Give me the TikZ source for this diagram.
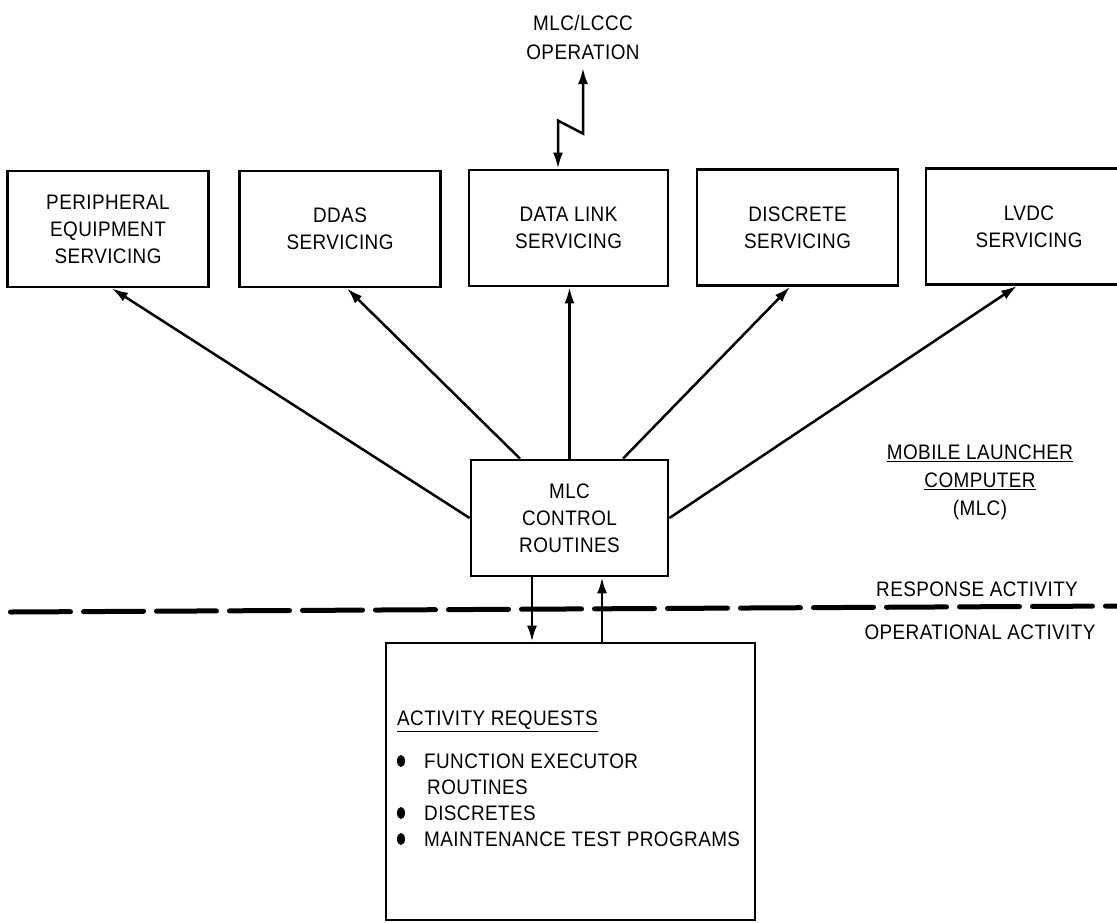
\documentclass[tikz,border=0pt]{standalone}
\usepackage{fontspec}
\setmainfont{Liberation Sans}[FakeStretch=0.9,LetterSpace=2]
\usetikzlibrary{arrows.meta,calc}
\newcommand\diaglbl{\fontsize{21}{27}\selectfont}
\begin{document}
\begin{tikzpicture}[x=1pt,y=-1pt,
  box/.style={draw, line width=2.8pt, minimum width=201pt, minimum height=116pt,
    align=center, inner sep=0pt, font=\diaglbl},
  txt/.style={font=\diaglbl, inner sep=0pt, text height=15pt, text depth=0pt},
  arr/.style={line width=2.5pt, -{Latex[length=16pt,width=10pt]}},
  dbl/.style={line width=2.5pt, {Latex[length=16pt,width=10pt]}-{Latex[length=16pt,width=10pt]}},
  divider/.style={line width=5pt, line cap=round, dash pattern=on 60pt off 13pt}]
\fill[white] (0,0) rectangle (1117,922);
\useasboundingbox (0,0) rectangle (1117,922);

% top boxes
\node[box] (pes) at (108,229) {PERIPHERAL\\EQUIPMENT\\SERVICING};
\node[box] (ddas) at (340,229) {DDAS\\SERVICING};
\node[box, minimum width=199pt] (dls) at (568.5,228) {DATA LINK\\SERVICING};
\node[box] (dis) at (797.5,227.5) {DISCRETE\\SERVICING};
\node[box, minimum width=206pt] (lvdc) at (1029,226.5) {LVDC\\SERVICING};

% middle box
\node[box, minimum width=197pt] (mlc) at (569.5,518) {MLC\\CONTROL\\ROUTINES};

% bottom box
\node[draw, line width=2.8pt, minimum width=369pt, minimum height=277pt, inner sep=0pt] (req) at (570.5,781.5) {};

% top label
\node[font=\fontsize{21}{29}\selectfont, align=center, inner sep=0pt] (op) at (583,37.5) {MLC/LCCC\\OPERATION};
\coordinate (optip) at (583,68);
\draw[dbl] ([xshift=-10.5pt]dls.north) -- ++(0,-48) -- ++(25,13) -- (optip);

% right labels
\node[font=\fontsize{21}{28}\selectfont, align=center, inner sep=0pt] (mlcname) at (980,482)
  {\underline{MOBILE LAUNCHER}\\\underline{COMPUTER}\\(MLC)};
\node[txt] (resp) at (977,589) {RESPONSE ACTIVITY};
\node[txt] (oper) at (980,632) {OPERATIONAL ACTIVITY};

% divider
\draw[divider] (10.5,612) -- (1117,606);

% connectors from MLC control routines
\draw[arr] (mlc.west) -- ([xshift=4pt]pes.south);
\draw[arr] ([xshift=-49.5pt]mlc.north) -- ([xshift=7pt]ddas.south);
\draw[arr] (mlc.north) -- (mlc.north |- dls.south);
\draw[arr] ([xshift=53.5pt]mlc.north) -- ([xshift=-7.5pt]dis.south);
\draw[arr] (mlc.east) -- ([xshift=-12pt]lvdc.south);

% between MLC and request box
\draw[arr] ($(mlc.south)+(-37.5,0)$) -- ($(mlc.south |- req.north)+(-37.5,0)$);
\draw[arr] ($(mlc.south |- req.north)+(32.5,0)$) -- ($(mlc.south)+(32.5,0)$);

% bottom box contents
\node[txt, anchor=west] (areq) at (397,718) {\underline{ACTIVITY REQUESTS}};
\node[txt, anchor=west] (fer) at (424,761) {FUNCTION EXECUTOR};
\node[txt, anchor=west] (rout) at (427,787) {ROUTINES};
\node[txt, anchor=west] (disc) at (424,813) {DISCRETES};
\node[txt, anchor=west] (mtp) at (424,839) {MAINTENANCE TEST PROGRAMS};
\fill (401,761) ellipse (4pt and 6pt);
\fill (401,813) ellipse (4pt and 6pt);
\fill (401,839) ellipse (4pt and 6pt);
\end{tikzpicture}
\end{document}
